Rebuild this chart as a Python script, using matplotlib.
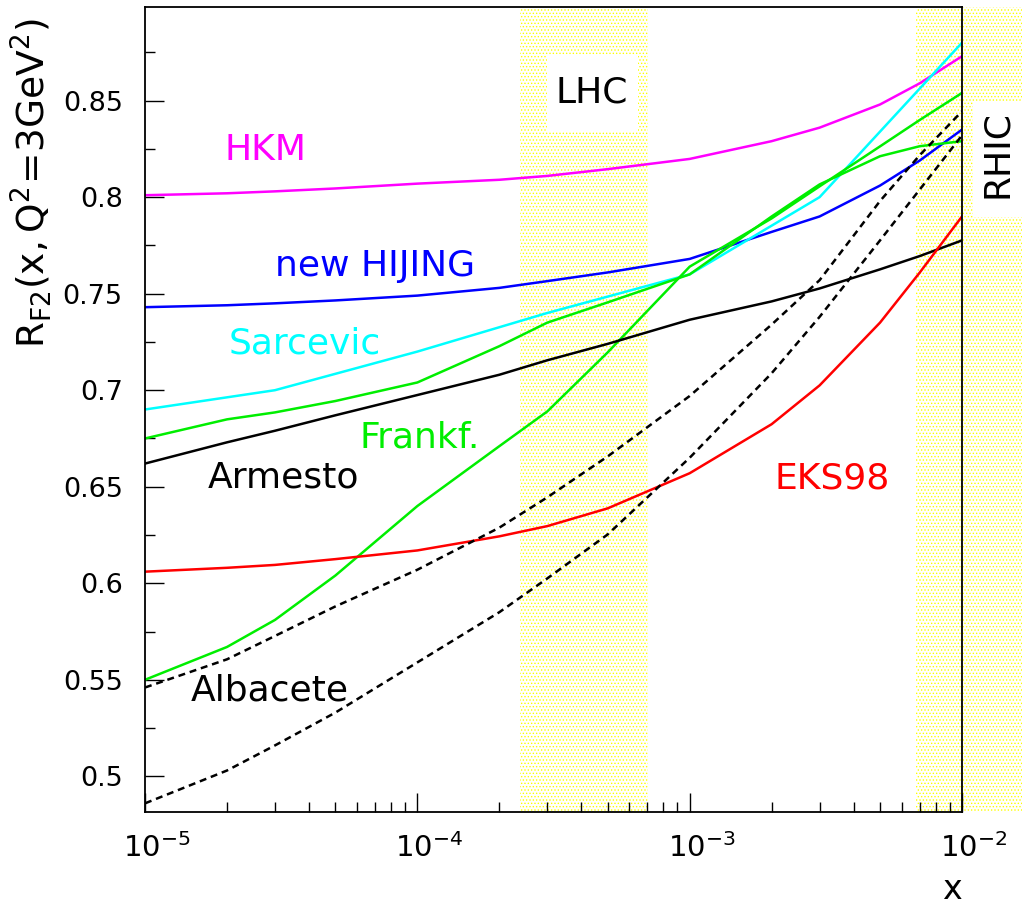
import matplotlib
matplotlib.use("Agg")
import matplotlib.pyplot as plt
from matplotlib.patches import Rectangle
from matplotlib.ticker import LogLocator, MultipleLocator, FuncFormatter, NullFormatter
from matplotlib.transforms import ScaledTranslation

plt.rcParams['font.family'] = ['DejaVu Sans']
plt.rcParams['mathtext.fontset'] = 'dejavusans'
plt.rcParams['lines.scale_dashes'] = False
plt.rcParams['hatch.linewidth'] = 0.6

# x grid shared by most of the model curves
x_grid = [1e-5, 2e-5, 3e-5, 5e-5, 1e-4, 2e-4, 3e-4, 5e-4,
          1e-3, 2e-3, 3e-3, 5e-3, 7e-3, 1e-2]

hkm = [0.801, 0.802, 0.803, 0.8045, 0.807, 0.809, 0.811, 0.8145,
       0.8198, 0.829, 0.836, 0.848, 0.859, 0.873]
new_hijing = [0.743, 0.744, 0.745, 0.7465, 0.749, 0.753, 0.7565, 0.761,
              0.768, 0.782, 0.790, 0.806, 0.819, 0.835]
armesto = [0.662, 0.673, 0.679, 0.687, 0.6975, 0.708, 0.7155, 0.724,
           0.7365, 0.746, 0.7527, 0.7626, 0.7695, 0.7776]
frankf_a = [0.675, 0.6849, 0.6885, 0.6944, 0.704, 0.7228, 0.735, 0.7455,
            0.760, 0.790, 0.8066, 0.8212, 0.8264, 0.829]
frankf_b = [0.550, 0.567, 0.581, 0.604, 0.640, 0.671, 0.689, 0.7196,
            0.764, 0.789, 0.8056, 0.8263, 0.840, 0.854]
eks98 = [0.606, 0.608, 0.6095, 0.6125, 0.617, 0.6243, 0.6296, 0.6388,
         0.657, 0.6824, 0.7025, 0.735, 0.761, 0.790]
albacete_hi = [0.546, 0.5606, 0.5727, 0.588, 0.607, 0.6288, 0.6445, 0.6657,
               0.697, 0.734, 0.757, 0.798, 0.8218, 0.8445]
albacete_lo = [0.486, 0.503, 0.516, 0.533, 0.559, 0.585, 0.6025, 0.6253,
               0.665, 0.7088, 0.738, 0.7776, 0.804, 0.832]

# Sarcevic only given on a coarser grid
x_sarcevic = [1e-5, 3e-5, 1e-4, 3e-4, 1e-3, 3e-3, 1e-2]
sarcevic = [0.690, 0.700, 0.720, 0.740, 0.760, 0.800, 0.880]

lhc_band = (2.39e-4, 7.05e-4)
rhic_band = (6.8e-3, 1.7e-2)

band_yellow = '#ffff00'

fig = plt.figure(figsize=(10.22, 9.08), dpi=100)
ax = fig.add_axes([0.1419, 0.1057, 0.7994, 0.8866])
ax.set_xscale('log')

# kinematic regions
for lo, hi in (lhc_band, rhic_band):
    span = ax.axvspan(lo, hi, facecolor='white', edgecolor=band_yellow,
                      hatch='.....', lw=0, zorder=0)
    span.set_clip_on(False)

lw = 1.8
ax.plot(x_grid, hkm, color='#ff00ff', lw=lw, zorder=2)
ax.plot(x_grid, new_hijing, color='#0000ff', lw=lw, zorder=2)
ax.plot(x_sarcevic, sarcevic, color='#00ffff', lw=lw, zorder=2)
ax.plot(x_grid, frankf_a, color='#00ee00', lw=lw, zorder=2)
ax.plot(x_grid, frankf_b, color='#00ee00', lw=lw, zorder=2)
ax.plot(x_grid, armesto, color='black', lw=lw, zorder=2)
ax.plot(x_grid, eks98, color='#ff0000', lw=lw, zorder=2)
ax.plot(x_grid, albacete_hi, color='black', lw=lw, ls=(0, (5, 3.5)), zorder=2)
ax.plot(x_grid, albacete_lo, color='black', lw=lw, ls=(0, (5, 3.5)), zorder=2)

ax.set_xlim(1e-5, 1e-2)
ax.set_ylim(0.4815, 0.8985)

# white boxes behind the region names
ax.add_patch(Rectangle((0.492, 0.8447), 0.1114, 0.0957, transform=ax.transAxes,
                       facecolor='white', edgecolor='none', zorder=1))
ax.add_patch(Rectangle((0.952, 0.761), 0.05, 0.1267, transform=fig.transFigure,
                       facecolor='white', edgecolor='none', zorder=1, clip_on=False))

labels = [
    ('HKM', 2.78e-5, 0.8190, '#ff00ff'),
    ('new HIJING', 6.98e-5, 0.7594, '#0000ff'),
    ('Sarcevic', 3.86e-5, 0.7191, '#00ffff'),
    ('Frankf.', 1.02e-4, 0.6704, '#00ee00'),
    ('Armesto', 3.22e-5, 0.6497, 'black'),
    ('Albacete', 2.88e-5, 0.5394, 'black'),
    ('EKS98', 3.34e-3, 0.6491, '#ff0000'),
    ('LHC', 4.37e-4, 0.8490, 'black'),
]
for txt, xp, yp, col in labels:
    ax.text(xp, yp, txt, color=col, fontsize=26, ha='center', va='baseline', zorder=3)

ax.text(1.345e-2, 0.8226, 'RHIC', rotation=90, fontsize=26, ha='center',
        va='center', clip_on=False, zorder=3)

# axes styling
for sp in ax.spines.values():
    sp.set_linewidth(1.3)
    sp.set_zorder(4)

ax.yaxis.set_major_locator(MultipleLocator(0.05))
ax.yaxis.set_minor_locator(MultipleLocator(0.025))
ax.yaxis.set_major_formatter(FuncFormatter(lambda v, p: '%g' % round(v, 3)))
ax.xaxis.set_major_locator(LogLocator(base=10, numticks=10))
ax.xaxis.set_minor_locator(LogLocator(base=10, subs=range(2, 10), numticks=10))
ax.xaxis.set_minor_formatter(NullFormatter())

ax.tick_params(which='both', direction='in', top=False, right=False, width=1.0)
ax.tick_params(which='major', length=14, labelsize=19.5)
ax.tick_params(which='minor', length=7)
ax.tick_params(axis='y', pad=16)
ax.tick_params(axis='x', pad=15, labelsize=21)

shift = ScaledTranslation(0.12, 0, fig.dpi_scale_trans)
for lab in ax.get_xticklabels():
    lab.set_transform(lab.get_transform() + shift)

fig.text(31 / 1022, 1 - 183 / 908, r'$\mathregular{R_{F2}(x,Q^2\!=\!3GeV^2)}$',
         rotation=90, fontsize=27, ha='center', va='center')
fig.text(952 / 1022, 1 - 899 / 908, 'x', fontsize=24, ha='center', va='baseline')

fig.savefig('out.png', dpi=100)
